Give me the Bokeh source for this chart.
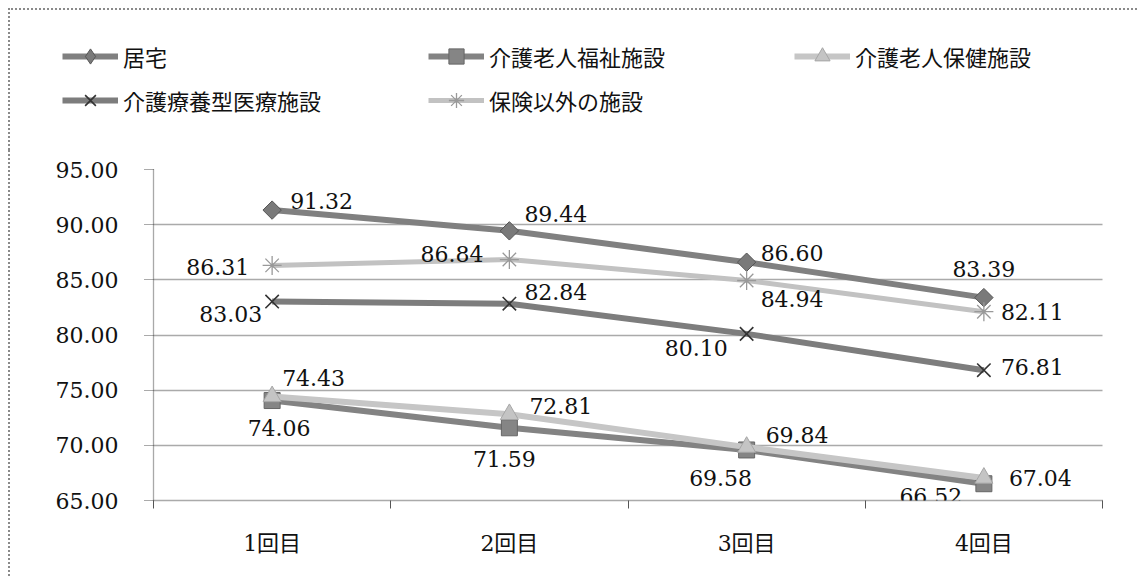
import math
from bokeh.plotting import figure
from bokeh.layouts import column
from bokeh.models import (Range1d, FixedTicker, ColumnDataSource, LabelSet, Legend,
                          LegendItem, PrintfTickFormatter)
from bokeh.embed import file_html
from bokeh.resources import INLINE
from bokeh.core.properties import value

# ---------------- data ----------------
categories = ["1回目", "2回目", "3回目", "4回目"]
series_names = ["居宅", "介護老人福祉施設", "介護老人保健施設", "介護療養型医療施設", "保険以外の施設"]
kyotaku = [91.32, 89.44, 86.60, 83.39]
fukushi = [74.06, 71.59, 69.58, 66.52]
roken = [74.43, 72.81, 69.84, 67.04]
ryoyo = [83.03, 82.84, 80.10, 76.81]
hoken_igai = [86.31, 86.84, 84.94, 82.11]
y_ticks = [65, 70, 75, 80, 85, 90, 95]
series_values = [kyotaku, fukushi, roken, ryoyo, hoken_igai]

# ---------------- styles ----------------
line_colors = ["#808080", "#838383", "#c6c6c6", "#7d7d7d", "#c2c2c2"]
line_widths = [6, 6, 6, 6, 5]
markers = ["square", "square", "triangle", "x", "asterisk"]
legend_markers = ["diamond", "square", "triangle", "x", "asterisk"]
marker_sizes = [13, 16, 18, 19, 19]
marker_angles = [math.pi / 4, 0, 0, 0, 0]
marker_fill = ["#7a7a7a", "#858585", "#c4c4c4", None, None]
marker_line = ["#555555", "#666666", "#a6a6a6", "#333333", "#999999"]
marker_line_w = [1, 1, 1, 1.6, 1.3]
# label placement per series/point: (align, dx, dy_up)
label_place = [
    [("left", 18, 9), ("left", 15, 17), ("left", 14, 9), ("center", 0, 29)],
    [("center", 7, -27), ("center", -5, -31), ("center", -26, -28), ("center", -53, -12)],
    [("left", 10, 18), ("left", 20, 8), ("left", 19, 12), ("left", 25, 0)],
    [("right", -10, -12), ("left", 15, 12), ("right", -19, -14), ("left", 17, 3)],
    [("right", -23, -2), ("right", -26, 6), ("left", 14, -19), ("left", 17, 0)],
]

NUM_FONT = "DejaVu Serif"
CJK_FONT = "Noto Sans CJK JP"
GRID = "#555555"
BORDER = "2px dotted #8a8a8a"

W = 1127
H_LEG, H_CHART = 140, 426
centers = [i + 0.5 for i in range(len(categories))]


def style_kwargs(i, legend=False):
    return dict(line=dict(line_color=line_colors[i], line_width=line_widths[i]),
                scatter=dict(marker=(legend_markers if legend else markers)[i],
                             size=marker_sizes[i],
                             angle=0 if legend else marker_angles[i],
                             fill_color=marker_fill[i], line_color=marker_line[i],
                             line_width=marker_line_w[i]))


sources = [ColumnDataSource(dict(x=centers, y=vals)) for vals in series_values]

# ---------------- chart ----------------
p = figure(width=W, height=H_CHART, x_range=Range1d(0, len(categories)),
           y_range=Range1d(min(y_ticks), max(y_ticks)),
           output_backend="svg", toolbar_location=None,
           min_border_left=143, min_border_right=35, min_border_top=19, min_border_bottom=76)
p.outline_line_color = None
p.background_fill_color = "white"
p.border_fill_color = "white"

p.xgrid.visible = False
p.ygrid.ticker = FixedTicker(ticks=y_ticks)
p.ygrid.grid_line_color = GRID
p.ygrid.grid_line_dash = "1 1"
p.ygrid.grid_line_width = 1.3

p.yaxis.ticker = FixedTicker(ticks=y_ticks)
p.yaxis.formatter = PrintfTickFormatter(format="%.2f")
p.yaxis.major_label_text_font = NUM_FONT
p.yaxis.major_label_text_font_size = "22px"
p.yaxis.major_label_text_color = "#111111"
p.yaxis.axis_line_color = GRID
p.yaxis.axis_line_dash = "1 1"
p.yaxis.axis_line_width = 1.3
p.yaxis.major_tick_line_color = GRID
p.yaxis.major_tick_line_dash = "1 1"
p.yaxis.major_tick_out = 9
p.yaxis.major_tick_in = 0
p.yaxis.minor_tick_line_color = None
p.yaxis.major_label_standoff = 26

p.xaxis.ticker = FixedTicker(ticks=centers, minor_ticks=list(range(len(categories) + 1)))
p.xaxis.major_label_overrides = {c: lab for c, lab in zip(centers, categories)}
p.xaxis.major_label_text_font = NUM_FONT + ", " + CJK_FONT
p.xaxis.major_label_text_font_size = "22px"
p.xaxis.major_label_text_color = "#111111"
p.xaxis.axis_line_color = GRID
p.xaxis.axis_line_dash = "1 1"
p.xaxis.axis_line_width = 1.3
p.xaxis.major_tick_line_color = None
p.xaxis.major_tick_out = 0
p.xaxis.major_tick_in = 0
p.xaxis.minor_tick_line_color = GRID
p.xaxis.minor_tick_out = 8
p.xaxis.minor_tick_in = 0
p.xaxis.major_label_standoff = 22

for i, src in enumerate(sources):
    st = style_kwargs(i)
    p.line("x", "y", source=src, **st["line"])
    p.scatter("x", "y", source=src, **st["scatter"])

for i, vals in enumerate(series_values):
    pl = label_place[i]
    lsrc = ColumnDataSource(dict(
        x=centers, y=vals, text=["%.2f" % v for v in vals],
        align=[a for a, _, _ in pl], dx=[d for _, d, _ in pl], dy=[d for _, _, d in pl]))
    p.add_layout(LabelSet(x="x", y="y", text="text", source=lsrc,
                          x_offset="dx", y_offset="dy", text_align="align",
                          text_baseline="middle", text_font=value(NUM_FONT),
                          text_font_size=value("22px"), text_color="#111111"))

# ---------------- legend strip (same series, kept out of its view) ----------------
lg = figure(width=W, height=H_LEG, x_range=Range1d(-20, -19), y_range=Range1d(0, 1),
            x_axis_type=None, y_axis_type=None, output_backend="svg", toolbar_location=None,
            min_border_left=0, min_border_right=0, min_border_top=0, min_border_bottom=0)
lg.outline_line_color = None
lg.grid.visible = False
lg.background_fill_color = "white"
lg.border_fill_color = "white"
items = []
for i, name in enumerate(series_names):
    st = style_kwargs(i, legend=True)
    r1 = lg.line("x", "y", source=sources[i], **st["line"])
    r2 = lg.scatter("x", "y", source=sources[i], **st["scatter"])
    items.append(LegendItem(label=name, renderers=[r1, r2]))
leg = Legend(items=items, location=(52, 31), orientation="horizontal", ncols=3,
             padding=0, margin=0, border_line_color=None, background_fill_alpha=0,
             label_text_font=CJK_FONT, label_text_font_size="22px",
             label_text_color="#111111",
             glyph_width=56, glyph_height=38, label_height=32, label_width=299,
             label_standoff=5, spacing=6)
lg.add_layout(leg)

top_box = column(lg, spacing=0)
top_box.styles = {"margin-left": "8px", "margin-top": "8px",
                  "border-left": BORDER, "border-top": BORDER}
chart_box = column(p, spacing=0)
chart_box.styles = {"margin-left": "8px", "border-left": BORDER}

open("out.html", "w").write(file_html([top_box, chart_box], INLINE))
